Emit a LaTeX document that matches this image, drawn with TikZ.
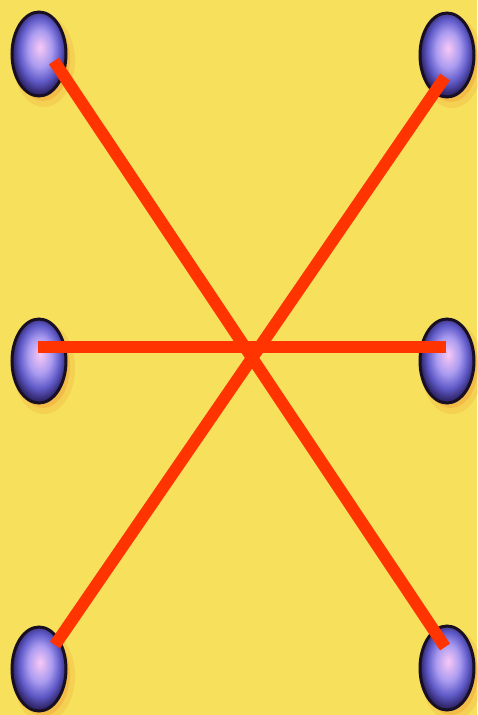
\documentclass[tikz,border=0pt]{standalone}
\usetikzlibrary{shapes.geometric,calc}
\definecolor{bgyellow}{RGB}{247,224,92}
\definecolor{linered}{RGB}{255,52,0}
\definecolor{ballhi}{RGB}{248,200,245}
\definecolor{ballmid}{RGB}{170,155,240}
\definecolor{balllow}{RGB}{95,90,200}
\definecolor{balledge}{RGB}{50,40,110}
\definecolor{ballrim}{RGB}{25,15,35}
\definecolor{glow}{RGB}{238,150,50}
\pgfdeclareradialshading{ballshade}{\pgfpoint{1bp}{4bp}}{%
  color(0bp)=(ballhi);
  color(4bp)=(ballhi!65!ballmid);
  color(11bp)=(ballmid);
  color(19bp)=(balllow);
  color(25bp)=(balledge);
  color(50bp)=(balledge)}
\tikzset{
  ball/.style={shape=ellipse, minimum width=54pt, minimum height=84pt, inner sep=0pt,
    shading=ballshade, draw=ballrim, line width=3pt},
  glowbox/.style={shape=ellipse, minimum width=54pt, minimum height=84pt, inner sep=0pt,
    fill=glow, draw=none},
  bar/.style={draw=linered, line width=12pt, line cap=butt}
}
\begin{document}
\begin{tikzpicture}[x=1pt,y=-1pt]
  \fill[bgyellow] (0,0) rectangle (477,715);
  \useasboundingbox (0,0) rectangle (477,715);
  % glows
  \foreach \x/\y in {39/54, 447/55, 39/361, 447/361, 39/669, 447/668}{
    \node[glowbox, opacity=0.2, minimum width=62pt, minimum height=92pt] at (\x+5,\y+7) {};
    \node[glowbox, opacity=0.35] at (\x+4,\y+5) {};
  }
  % balls
  \node[ball] (tl) at (39,54) {};
  \node[ball] (tr) at (447,55) {};
  \node[ball] (ml) at (39,361) {};
  \node[ball] (mr) at (447,361) {};
  \node[ball] (bl) at (39,669) {};
  \node[ball] (br) at (447,668) {};
  % bar ends
  \coordinate (a1) at (54,61);
  \coordinate (a2) at (445,647);
  \coordinate (b1) at (445,77);
  \coordinate (b2) at (55,645);
  \coordinate (h1) at (38,347);
  \coordinate (h2) at (446,347);
  \draw[bar] (a1) -- (a2);
  \draw[bar] (b1) -- (b2);
  \draw[bar] (h1) -- (h2);
\end{tikzpicture}
\end{document}
